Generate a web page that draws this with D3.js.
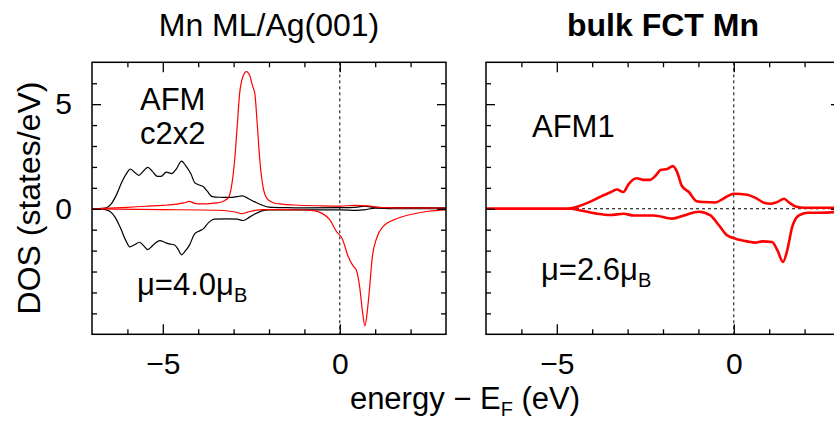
<!DOCTYPE html>
<html>
<head>
<meta charset="utf-8">
<script src="https://cdn.jsdelivr.net/npm/d3@7"></script>
<style>
  body { margin: 0; background: #fff; }
  svg { display: block; font-family: "Liberation Sans", Arial, Helvetica, sans-serif; }
</style>
</head>
<body>
<svg id="chart" width="834" height="423"></svg>
<script>
// axis ranges and tick labels
const energyDomain = [-7, 3];
const dosDomain = [-6, 7];
const energyMinorTicks = [-6, -4, -3, -2, -1, 1, 2];
const energyLabelTicks = [-5, 0];
const dosMinorTicks = [-5, -4, -3, -2, -1, 1, 2, 3, 4, 6];
const dosLabelTicks = [0, 5];

// Mn ML/Ag(001), AFM c2x2 : [energy, DOS]
const mlBlackUp = [[-7,0.0],[-6.8,0.01],[-6.6,0.05],[-6.45,0.25],[-6.3,0.7],[-6.15,1.3],[-6.0,1.75],[-5.92,1.9],[-5.8,1.75],[-5.68,1.6],[-5.55,1.8],[-5.42,1.98],[-5.3,1.8],[-5.15,1.55],[-5.05,1.55],[-4.9,1.75],[-4.75,1.68],[-4.62,1.9],[-4.47,2.28],[-4.35,2.05],[-4.2,1.65],[-4.1,1.25],[-3.95,1.12],[-3.85,1.05],[-3.75,0.85],[-3.6,0.58],[-3.4,0.55],[-3.1,0.54],[-2.9,0.58],[-2.75,0.62],[-2.6,0.5],[-2.4,0.33],[-2.2,0.18],[-2.0,0.08],[-1.5,0.05],[-1.0,0.04],[0,0.05],[0.5,0.08],[0.7,0.12],[0.9,0.08],[1.5,0.05],[3,0.04]];
const mlBlackDown = [[-7,0],[-6.7,-0.02],[-6.5,-0.12],[-6.35,-0.4],[-6.2,-0.9],[-6.05,-1.5],[-5.93,-1.82],[-5.8,-1.72],[-5.66,-1.6],[-5.55,-1.75],[-5.43,-1.95],[-5.3,-1.78],[-5.2,-1.62],[-5.08,-1.52],[-4.95,-1.6],[-4.82,-1.68],[-4.68,-1.72],[-4.58,-1.9],[-4.47,-2.2],[-4.38,-2.05],[-4.25,-1.75],[-4.1,-1.2],[-3.95,-1.05],[-3.85,-0.95],[-3.7,-0.65],[-3.55,-0.5],[-3.2,-0.48],[-2.9,-0.5],[-2.73,-0.56],[-2.55,-0.4],[-2.4,-0.25],[-2.2,-0.1],[-2.0,-0.05],[-1,-0.05],[0,-0.05],[0.5,-0.08],[0.7,-0.05],[1,0.03],[1.5,0.0],[3,0.0]];
const mlRedUp = [[-7,0.0],[-6.5,0.03],[-6,0.07],[-5.5,0.12],[-5,0.16],[-4.6,0.22],[-4.4,0.28],[-4.25,0.35],[-4.1,0.26],[-3.9,0.23],[-3.6,0.26],[-3.39,0.3],[-3.25,0.4],[-3.15,0.52],[-3.06,1.06],[-2.97,2.33],[-2.9,3.9],[-2.83,5.5],[-2.74,6.3],[-2.64,6.55],[-2.54,6.35],[-2.47,5.9],[-2.4,5.5],[-2.33,4.0],[-2.26,2.33],[-2.17,1.06],[-2.06,0.5],[-1.9,0.3],[-1.7,0.23],[-1.3,0.18],[-0.5,0.14],[0,0.13],[0.4,0.16],[0.8,0.14],[1.1,0.07],[2,0.04],[3,0.03]];
const mlRedDown = [[-7,-0.01],[-5,-0.04],[-3.5,-0.07],[-3.1,-0.12],[-2.9,-0.18],[-2.78,-0.23],[-2.6,-0.16],[-2.4,-0.08],[-2.17,-0.04],[-1.5,-0.04],[-1.0,-0.06],[-0.7,-0.1],[-0.5,-0.22],[-0.28,-0.53],[-0.09,-1.1],[0.06,-1.4],[0.24,-2.29],[0.37,-2.72],[0.47,-2.95],[0.56,-3.72],[0.64,-4.9],[0.71,-5.6],[0.77,-5.0],[0.83,-4.0],[0.92,-2.29],[1.04,-1.41],[1.22,-0.85],[1.6,-0.48],[2.07,-0.25],[2.5,-0.12],[3,-0.05]];

// bulk FCT Mn, AFM1
const bulkRedUp = [[-7,0],[-4.7,0],[-4.45,0.08],[-4.15,0.27],[-3.8,0.55],[-3.5,0.78],[-3.3,0.92],[-3.12,0.8],[-2.97,1.18],[-2.75,1.46],[-2.55,1.38],[-2.38,1.38],[-2.2,1.6],[-2.07,1.85],[-1.88,1.9],[-1.72,2.04],[-1.6,1.75],[-1.47,1.1],[-1.27,0.8],[-1.05,0.36],[-0.85,0.32],[-0.52,0.3],[-0.28,0.5],[0,0.72],[0.38,0.67],[0.61,0.52],[0.85,0.29],[1.04,0.24],[1.23,0.32],[1.42,0.48],[1.56,0.3],[1.75,0.11],[2,0.05],[3,0.05]];
const bulkRedDown = [[-7,0],[-4.6,0],[-4.33,-0.08],[-3.86,-0.24],[-3.49,-0.3],[-3.11,-0.24],[-2.83,-0.32],[-2.26,-0.32],[-1.74,-0.47],[-1.41,-0.32],[-0.98,-0.14],[-0.66,-0.32],[-0.42,-0.79],[-0.19,-1.27],[0.05,-1.43],[0.38,-1.56],[0.61,-1.62],[0.8,-1.56],[1.08,-1.59],[1.23,-1.98],[1.39,-2.54],[1.51,-1.98],[1.65,-0.87],[1.84,-0.32],[2.08,-0.19],[2.45,-0.19],[3,-0.14]];

class DosPanel {

  constructor(_config, _curves) {
    this.config = {
      parentElement: _config.parentElement,
      left: _config.left,
      top: 62.3,
      width: 354,
      height: 272,
      title: _config.title,
      titleWeight: _config.titleWeight || 'normal',
      showYLabels: _config.showYLabels,
      horizontalZero: _config.horizontalZero,
      notes: _config.notes
    };
    this.curves = _curves;
    this.initVis();
  }

  initVis() {
    let vis = this;
    let c = vis.config;

    vis.xScale = d3.scaleLinear().domain(energyDomain).range([0, c.width]);
    vis.yScale = d3.scaleLinear().domain(dosDomain).range([c.height, 0]);

    vis.svg = d3.select(c.parentElement);
    vis.chart = vis.svg.append('g')
      .attr('transform', `translate(${c.left},${c.top})`);

    vis.renderVis();
  }

  renderVis() {
    let vis = this;
    let c = vis.config;

    // dashed guide lines at E_F (and DOS = 0)
    vis.chart.append('line')
      .attr('x1', vis.xScale(0)).attr('x2', vis.xScale(0))
      .attr('y1', 0).attr('y2', c.height)
      .attr('stroke', '#000').attr('stroke-width', 1)
      .attr('stroke-dasharray', '3,3');
    if (c.horizontalZero) {
      vis.chart.append('line')
        .attr('x1', 0).attr('x2', c.width)
        .attr('y1', vis.yScale(0)).attr('y2', vis.yScale(0))
        .attr('stroke', '#000').attr('stroke-width', 1)
        .attr('stroke-dasharray', '3,3');
    }

    // DOS curves
    let line = d3.line()
      .x(d => vis.xScale(d[0]))
      .y(d => vis.yScale(d[1]))
      .curve(d3.curveMonotoneX);

    vis.chart.selectAll('.dos-curve')
      .data(vis.curves)
      .join('path')
      .attr('class', 'dos-curve')
      .attr('fill', 'none')
      .attr('stroke', d => d.color)
      .attr('stroke-width', d => d.width)
      .attr('stroke-linejoin', 'round')
      .attr('d', d => line(d.values));

    // axes, ticks pointing inward on all four sides
    let axes = [
      { gen: d3.axisBottom, y: c.height, x: 0, scale: vis.xScale, minor: energyMinorTicks, major: energyLabelTicks, labels: true },
      { gen: d3.axisTop, y: 0, x: 0, scale: vis.xScale, minor: energyMinorTicks, major: energyLabelTicks, labels: false },
      { gen: d3.axisLeft, y: 0, x: 0, scale: vis.yScale, minor: dosMinorTicks, major: dosLabelTicks, labels: c.showYLabels },
      { gen: d3.axisRight, y: 0, x: c.width, scale: vis.yScale, minor: dosMinorTicks, major: dosLabelTicks, labels: false }
    ];
    axes.forEach(a => {
      let isX = (a.gen === d3.axisBottom || a.gen === d3.axisTop);
      let g = vis.chart.append('g').attr('transform', `translate(${a.x},${a.y})`);
      g.call(a.gen(a.scale).tickValues(a.minor).tickSize(-5).tickFormat(''));
      let gm = vis.chart.append('g').attr('transform', `translate(${a.x},${a.y})`);
      gm.call(a.gen(a.scale).tickValues(a.major).tickSize(isX ? -10 : -9)
        .tickPadding(isX ? 18 : 20)
        .tickFormat(a.labels ? d => (d < 0 ? '\u2212' + Math.abs(d) : d) : ''));
      [g, gm].forEach(s => {
        s.select('.domain').remove();
        s.selectAll('line').attr('stroke', '#000').attr('stroke-width', 1.3);
        s.selectAll('text').attr('font-size', 30).attr('font-family', null).attr('fill', '#000');
      });
    });

    // frame
    vis.chart.append('rect')
      .attr('width', c.width).attr('height', c.height)
      .attr('fill', 'none').attr('stroke', '#000').attr('stroke-width', 1.5);

    // panel title
    vis.svg.append('text')
      .attr('x', c.left + c.width / 2)
      .attr('y', 36)
      .attr('text-anchor', 'middle')
      .attr('font-size', 32)
      .attr('font-weight', c.titleWeight)
      .text(c.title);

    // annotations inside the panel
    c.notes.forEach(n => {
      let t = vis.svg.append('text')
        .attr('x', n.x).attr('y', n.y)
        .attr('font-size', 31);
      t.append('tspan').text(n.text);
      if (n.sub) {
        t.append('tspan').attr('font-size', 20).attr('dy', 7).text(n.sub);
      }
    });
  }
}

let svg = d3.select('#chart');

new DosPanel({
  parentElement: '#chart',
  left: 92,
  title: 'Mn ML/Ag(001)',
  showYLabels: true,
  horizontalZero: false,
  notes: [
    { text: 'AFM', x: 140, y: 110 },
    { text: 'c2x2', x: 140, y: 144 },
    { text: '\u03bc=4.0\u03bc', sub: 'B', x: 137, y: 295 }
  ]
}, [
  { values: mlBlackUp, color: '#000', width: 1.2 },
  { values: mlBlackDown, color: '#000', width: 1.2 },
  { values: mlRedUp, color: '#ff0000', width: 1.2 },
  { values: mlRedDown, color: '#ff0000', width: 1.2 }
]);

new DosPanel({
  parentElement: '#chart',
  left: 486,
  title: 'bulk FCT Mn',
  titleWeight: 'bold',
  showYLabels: false,
  horizontalZero: true,
  notes: [
    { text: 'AFM1', x: 532, y: 137 },
    { text: '\u03bc=2.6\u03bc', sub: 'B', x: 541, y: 280 }
  ]
}, [
  { values: bulkRedUp, color: '#ff0000', width: 2.6 },
  { values: bulkRedDown, color: '#ff0000', width: 2.6 }
]);

// shared axis titles
svg.append('text')
  .attr('transform', 'translate(40,198) rotate(-90)')
  .attr('text-anchor', 'middle')
  .attr('font-size', 32)
  .text('DOS (states/eV)');

let xTitle = svg.append('text')
  .attr('x', 465)
  .attr('y', 409)
  .attr('text-anchor', 'middle')
  .attr('font-size', 31);
xTitle.append('tspan').text('energy \u2212 E');
xTitle.append('tspan').attr('font-size', 20).attr('dy', 7).text('F');
xTitle.append('tspan').attr('dy', -7).text(' (eV)');
</script>
</body>
</html>
